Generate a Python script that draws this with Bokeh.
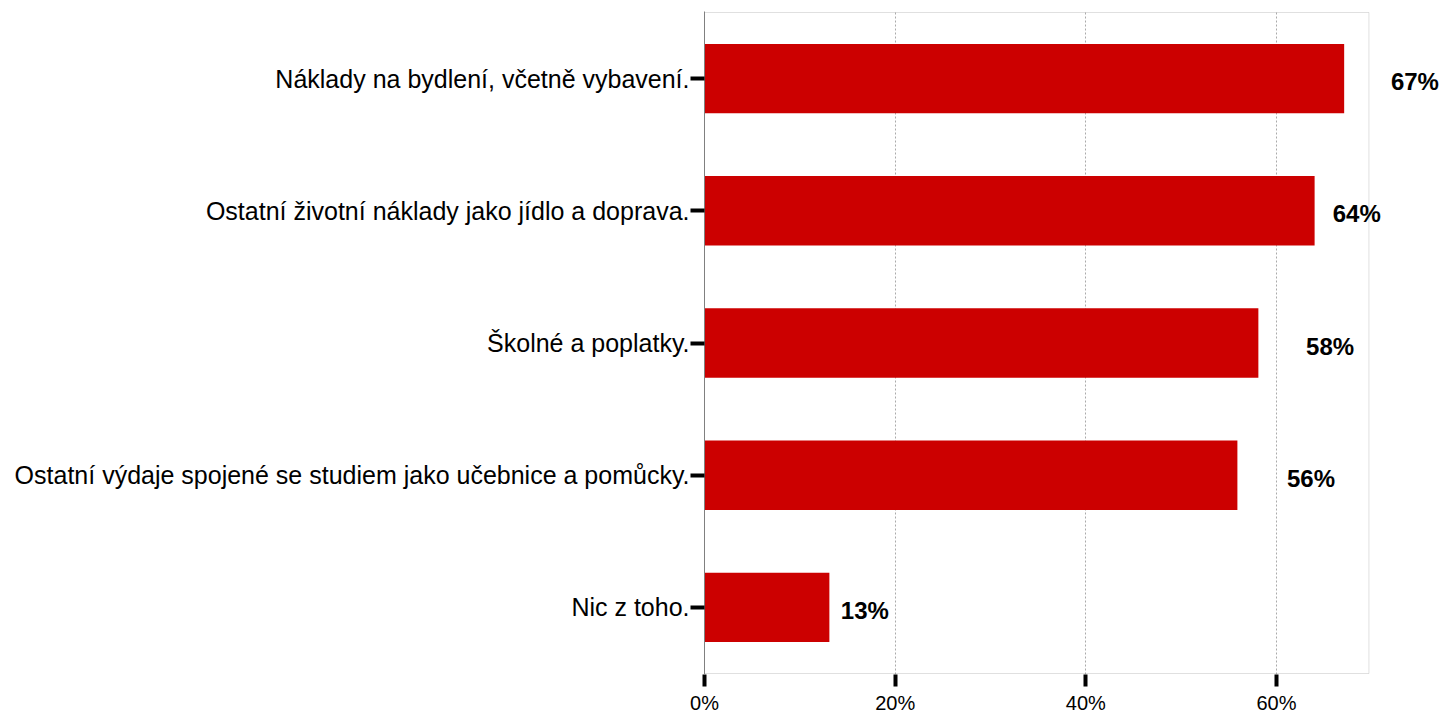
from bokeh.plotting import figure
from bokeh.models import ColumnDataSource, FactorRange, Range1d, FixedTicker, LabelSet, BoxAnnotation
from bokeh.core.properties import value
from bokeh.embed import file_html
from bokeh.resources import INLINE

categories = [
    "Náklady na bydlení, včetně vybavení.",
    "Ostatní životní náklady jako jídlo a doprava.",
    "Školné a poplatky.",
    "Ostatní výdaje spojené se studiem jako učebnice a pomůcky.",
    "Nic z toho.",
]
values = [67.1, 64.0, 58.1, 55.9, 13.1]
value_labels = ["67%", "64%", "58%", "56%", "13%"]
label_offsets = [4.9, 1.9, 5.0, 5.2, 1.2]
x_ticks = [0, 20, 40, 60]
x_tick_labels = ["0%", "20%", "40%", "60%"]
axis_max = 69.7

FONT = "Liberation Sans"

src = ColumnDataSource(dict(
    cat=categories,
    val=values,
    lab=value_labels,
    lx=[v + o for v, o in zip(values, label_offsets)],
))

# frame spans beyond the axis maximum so the outer value label is not clipped
px_per_unit = 9.533
frame_px = 1444 - 704
p = figure(
    width=1444, height=716,
    y_range=FactorRange(factors=list(reversed(categories)), range_padding=0.003),
    x_range=Range1d(0, frame_px / px_per_unit),
    output_backend="svg", toolbar_location=None,
    min_border_left=704, min_border_right=0, min_border_top=11, min_border_bottom=38,
)
p.background_fill_color = "white"
p.border_fill_color = "white"
p.outline_line_color = None

# visible plot box from 0 to axis_max, around all category bands
p.add_layout(BoxAnnotation(left=0, right=axis_max, bottom=0, top=len(categories),
                           fill_alpha=0, line_color="#999999", line_width=1,
                           level="underlay"))

p.hbar(y="cat", right="val", left=0, height=0.525, source=src,
       fill_color="#CC0000", line_color=None)

labels = LabelSet(x="lx", y="cat", text="lab", source=src, y_offset=-3,
                  text_font=value(FONT), text_font_size="24px", text_font_style="bold",
                  text_color="black", text_baseline="middle", text_align="left")
p.add_layout(labels)

# grid
p.ygrid.grid_line_color = None
p.xgrid.ticker = FixedTicker(ticks=[20, 40, 60])
p.xgrid.grid_line_color = "#aaaaaa"
p.xgrid.grid_line_dash = "2 2"
p.xgrid.grid_line_width = 1

# x axis
p.xaxis.ticker = FixedTicker(ticks=x_ticks)
p.xaxis.major_label_overrides = {t: l for t, l in zip(x_ticks, x_tick_labels)}
p.xaxis.axis_line_color = None
p.xaxis.major_tick_line_color = "black"
p.xaxis.major_tick_line_width = 4
p.xaxis.major_tick_out = 12
p.xaxis.major_tick_in = 0
p.xaxis.minor_tick_line_color = None
p.xaxis.major_label_text_font = FONT
p.xaxis.major_label_text_font_size = "20px"
p.xaxis.major_label_text_color = "black"
p.xaxis.major_label_standoff = 5

# y axis
p.yaxis.axis_line_color = "#808080"
p.yaxis.major_tick_line_color = "black"
p.yaxis.major_tick_line_width = 4
p.yaxis.major_tick_out = 14
p.yaxis.major_tick_in = 0
p.yaxis.major_label_text_font = FONT
p.yaxis.major_label_text_font_size = "25px"
p.yaxis.major_label_text_color = "black"
p.yaxis.major_label_standoff = 1

open("out.html", "w").write(file_html(p, INLINE))
